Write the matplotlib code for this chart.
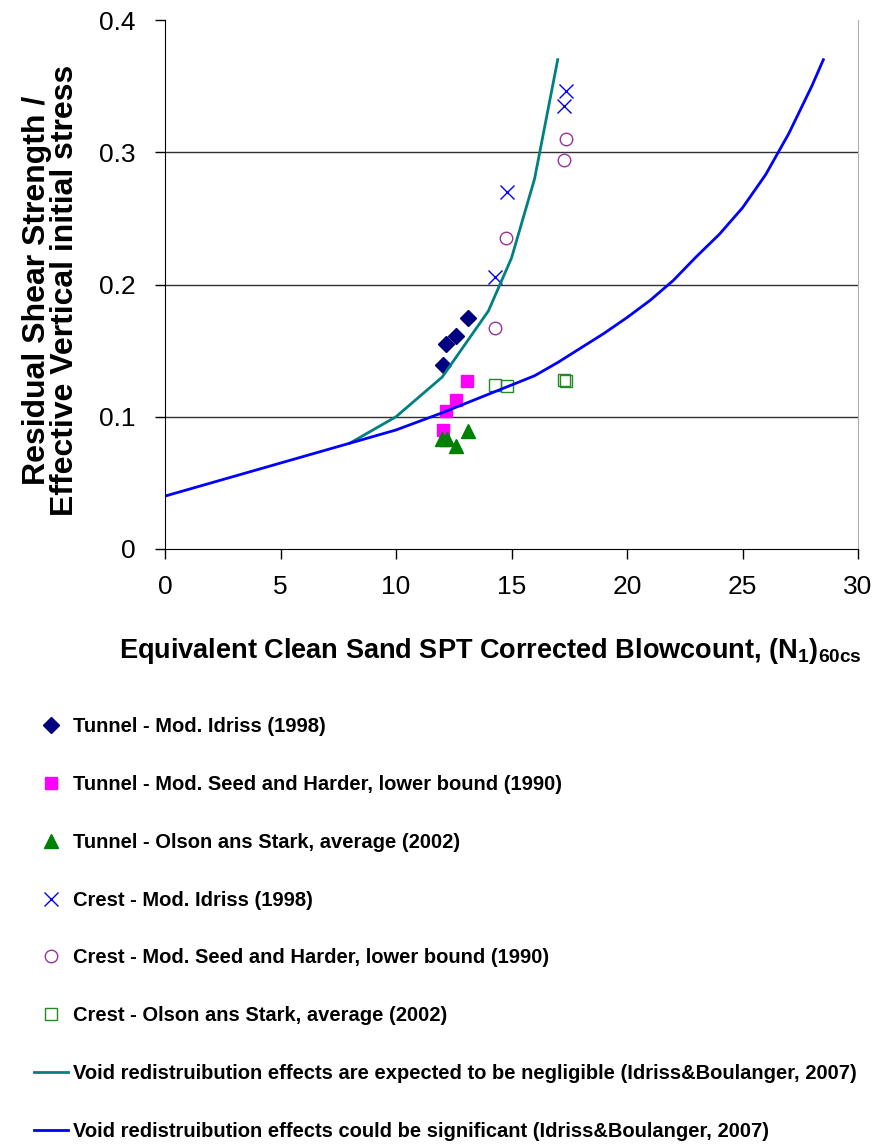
import numpy as np
import matplotlib
matplotlib.use("Agg")
import matplotlib.pyplot as plt

plt.rcParams['font.family'] = ['Liberation Sans', 'DejaVu Sans']
plt.rcParams['mathtext.fontset'] = 'custom'
plt.rcParams['mathtext.rm'] = 'Liberation Sans'
plt.rcParams['mathtext.bf'] = 'Liberation Sans:bold'

# Curves (Idriss & Boulanger, 2007)
negl_x = [8, 10, 12, 14, 15, 16, 17]
negl_y = [0.08, 0.10, 0.13, 0.18, 0.22, 0.28, 0.37]

sig_x = [0, 2, 4, 6, 8, 10, 12, 14, 16, 17, 18, 19, 20, 21, 22, 23, 24, 25, 26, 27, 28, 28.5]
sig_y = [0.04, 0.05, 0.06, 0.07, 0.08, 0.09, 0.103, 0.117, 0.131, 0.141, 0.152, 0.163, 0.175,
         0.188, 0.203, 0.221, 0.238, 0.258, 0.283, 0.314, 0.350, 0.370]

# Tunnel points
tun_idr_x = [12.02, 12.17, 12.59, 13.11]
tun_idr_y = [0.139, 0.155, 0.161, 0.175]
tun_seed_x = [12.02, 12.16, 12.59, 13.07]
tun_seed_y = [0.090, 0.104, 0.113, 0.127]
tun_olson_x = [12.0, 12.2, 12.6, 13.1]
tun_olson_y = [0.083, 0.083, 0.078, 0.089]

# Crest points
cr_idr_x = [14.3, 14.79, 17.27, 17.37]
cr_idr_y = [0.206, 0.270, 0.335, 0.346]
cr_seed_x = [14.28, 14.75, 17.27, 17.37]
cr_seed_y = [0.167, 0.235, 0.294, 0.310]
cr_olson_x = [14.3, 14.79, 17.27, 17.37]
cr_olson_y = [0.124, 0.123, 0.128, 0.127]

labels = [
    "Tunnel - Mod. Idriss (1998)",
    "Tunnel - Mod. Seed and Harder, lower bound (1990)",
    "Tunnel - Olson ans Stark, average (2002)",
    "Crest - Mod. Idriss (1998)",
    "Crest - Mod. Seed and Harder, lower bound (1990)",
    "Crest - Olson ans Stark, average (2002)",
    "Void redistruibution effects are expected to be negligible (Idriss&Boulanger, 2007)",
    "Void redistruibution effects could be significant (Idriss&Boulanger, 2007)",
]

fig = plt.figure(figsize=(8.81, 11.46), dpi=100)
ax = fig.add_axes([165 / 881, 1 - 549 / 1146, 693 / 881, 529 / 1146])

h_tun_idr, = ax.plot(tun_idr_x, tun_idr_y, 'D', color='#000080', ms=8.5, ls='none')
h_tun_seed, = ax.plot(tun_seed_x, tun_seed_y, 's', color='#FF00FF', ms=9, ls='none')
h_tun_olson, = ax.plot(tun_olson_x, tun_olson_y, '^', color='#008000', ms=10, ls='none')
h_cr_idr, = ax.plot(cr_idr_x, cr_idr_y, 'x', color='#0000FF', ms=10, mew=1, ls='none')
h_cr_seed, = ax.plot(cr_seed_x, cr_seed_y, 'o', mfc='none', mec='#993399', ms=9, mew=1, ls='none')
h_cr_olson, = ax.plot(cr_olson_x, cr_olson_y, 's', mfc='none', mec='#228B22', ms=9, mew=1, ls='none')
h_negl, = ax.plot(negl_x, negl_y, color='#008080', lw=2)
h_sig, = ax.plot(sig_x, sig_y, color='#0000FF', lw=2)

ax.set_xlim(0, 30)
ax.set_ylim(0, 0.4)
ax.set_xticks(np.arange(0, 31, 5))
ax.set_yticks([0, 0.1, 0.2, 0.3, 0.4])
ax.set_yticklabels(['0', '0.1', '0.2', '0.3', '0.4'])
ax.tick_params(labelsize=19, direction='out', length=7, width=1, pad=14)
ax.tick_params(axis='x', pad=12)
for y in [0.1, 0.2, 0.3]:
    ax.axhline(y, color='#303030', lw=1, zorder=0)
ax.spines['top'].set_visible(False)
ax.spines['right'].set_color('#b0b0b0')

ax.set_xlabel(r"Equivalent Clean Sand SPT Corrected Blowcount, (N$_\mathbf{1}$)$_\mathbf{60cs}$",
              fontsize=19.5, fontweight='bold')
ax.xaxis.set_label_coords(0.469, -0.164)
ax.set_ylabel("Residual Shear Strength /\nEffective Vertical initial stress",
              fontsize=23, fontweight='bold', linespacing=0.92)
ax.yaxis.set_label_coords(-0.123, 0.488)

handles = [h_tun_idr, h_tun_seed, h_tun_olson, h_cr_idr, h_cr_seed, h_cr_olson, h_negl, h_sig]
fig.legend(handles, labels, loc='upper left', bbox_to_anchor=(34 / 881, 1 - 717 / 1146),
           frameon=False, prop={'weight': 'bold', 'size': 14.5}, handlelength=1.7,
           handletextpad=0.25, labelspacing=1.93, borderpad=0, borderaxespad=0)

fig.savefig("out.png", dpi=100)
